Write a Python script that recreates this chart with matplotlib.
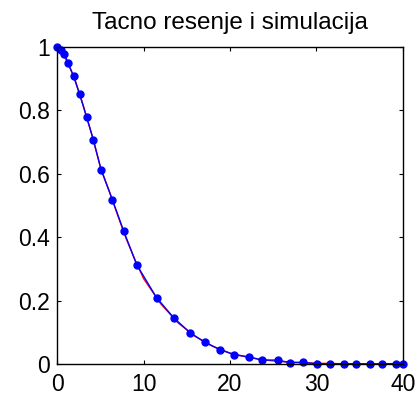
import matplotlib.pyplot as plt

plt.rcParams['font.family'] = ['Liberation Sans', 'DejaVu Sans']

# simulation steps (adaptive solver)
t_sim = [0, 0.46, 0.85, 1.3, 1.9, 2.6, 3.4, 4.2, 5.1, 6.4, 7.7, 9.2, 11.5,
         13.5, 15.4, 17.1, 18.8, 20.5, 22.2, 23.7, 25.5, 26.9, 28.4, 30.1,
         31.6, 33.2, 34.6, 36.2, 37.6, 39.2, 40.0]
y_sim = [1.0, 0.99, 0.978, 0.948, 0.908, 0.851, 0.78, 0.707, 0.612, 0.518,
         0.42, 0.314, 0.21, 0.146, 0.099, 0.069, 0.046, 0.030, 0.023, 0.013,
         0.013, 0.005, 0.006, 0.001, 0.001, 0.001, 0.001, 0.001, 0.001,
         0.002, 0.002]

# exact solution
t_exact = [0, 1, 2, 3, 4, 5, 6, 7, 8, 9, 10, 12, 14, 16, 18, 20, 22, 24,
           26, 28, 30, 32, 34, 36, 38, 40]
y_exact = [1.0, 0.962, 0.903, 0.818, 0.725, 0.622, 0.548, 0.47, 0.395,
           0.33, 0.27, 0.19, 0.13, 0.087, 0.057, 0.035, 0.022, 0.013,
           0.008, 0.005, 0.003, 0.002, 0.001, 0.001, 0.0, 0.0]

xticks = [0, 10, 20, 30, 40]
yticks = [0, 0.2, 0.4, 0.6, 0.8, 1]

fig = plt.figure(figsize=(4.17, 3.95), dpi=100)
ax = fig.add_axes([0.137, 0.078, 0.829, 0.803])

ax.plot(t_exact, y_exact, color='red', lw=1.0)
ax.plot(t_sim, y_sim, color='blue', lw=1.0, marker='o', ms=5,
        clip_on=False)

ax.set_xlim(0, 40)
ax.set_ylim(0, 1)
ax.set_xticks(xticks)
ax.set_xticklabels([str(v) for v in xticks])
ax.set_yticks(yticks)
ax.set_yticklabels(['0', '0.2', '0.4', '0.6', '0.8', '1'])
ax.tick_params(direction='in', top=True, right=True, length=3,
               labelsize=16.5, width=0.8)
ax.tick_params(axis='y', pad=5)
ax.tick_params(axis='x', pad=6)
for s in ax.spines.values():
    s.set_linewidth(1.0)
ax.set_title('Tacno resenje i simulacija', fontsize=17.5, pad=13)

fig.savefig('out.png', dpi=100)
